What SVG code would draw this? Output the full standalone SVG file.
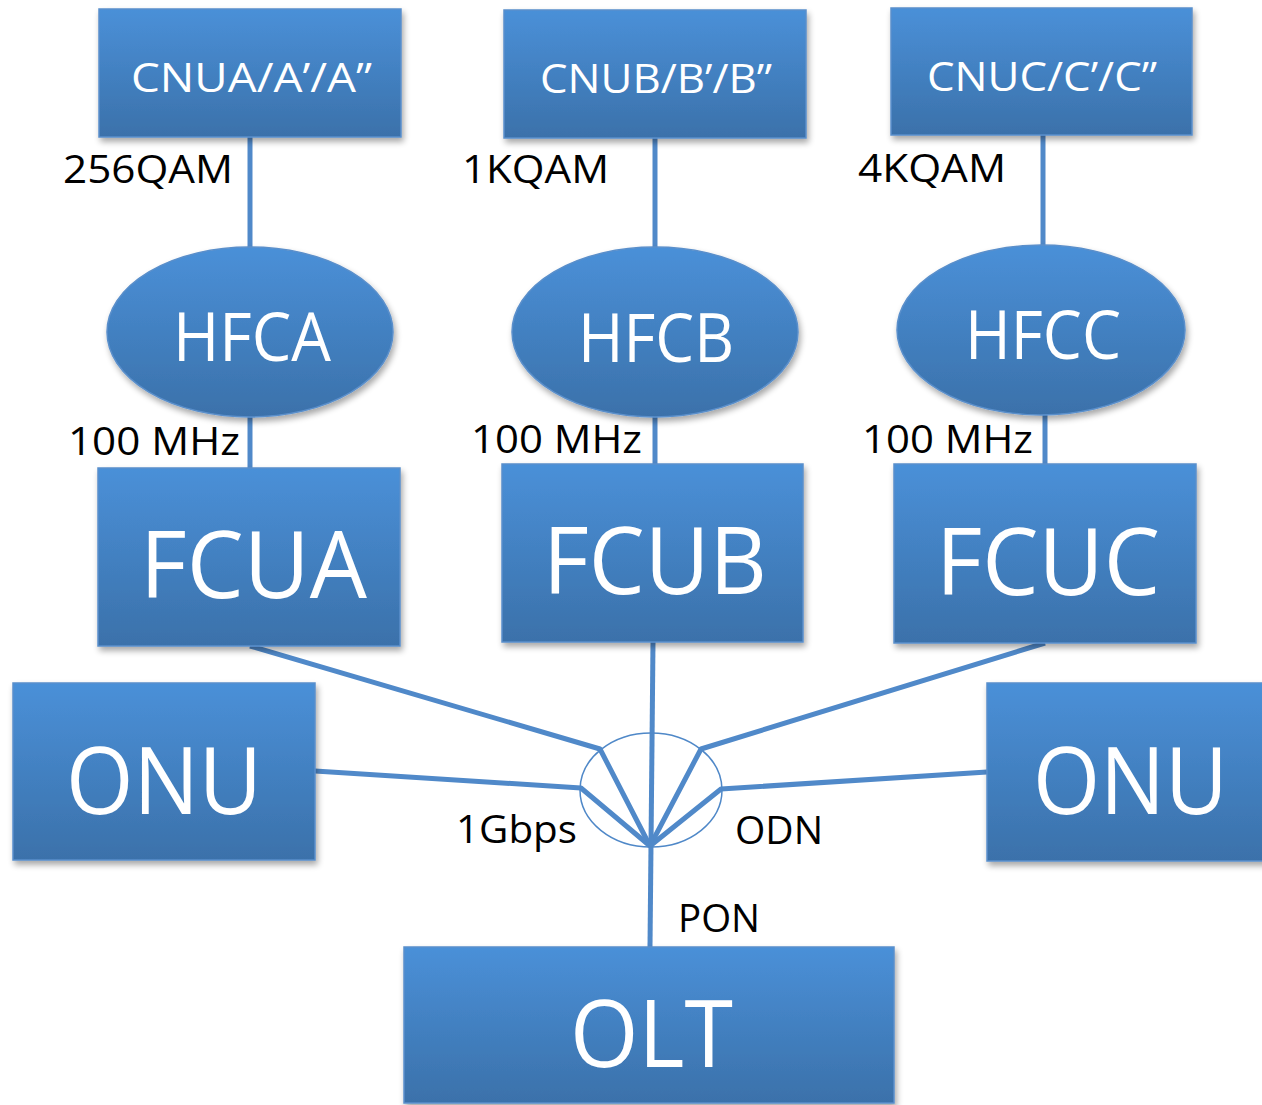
<svg xmlns="http://www.w3.org/2000/svg" width="1262" height="1105" viewBox="0 0 1262 1105">
<defs>
<linearGradient id="g" x1="0" y1="0" x2="0" y2="1">
<stop offset="0" stop-color="#4a90d8"/>
<stop offset="1" stop-color="#3b71aa"/>
</linearGradient>
<filter id="sh" x="-10%" y="-10%" width="125%" height="130%">
<feGaussianBlur in="SourceAlpha" stdDeviation="3"/>
<feOffset dx="2" dy="4"/>
<feComponentTransfer><feFuncA type="linear" slope="0.35"/></feComponentTransfer>
<feMerge><feMergeNode/><feMergeNode in="SourceGraphic"/></feMerge>
</filter>
</defs>
<style>
.n{fill:url(#g);stroke:#5a8fcb;stroke-width:1.5;filter:url(#sh)}
.w{fill:#fff;font-family:"Open Sans","Noto Sans",sans-serif}
.b{fill:#000;font-family:"Open Sans","Noto Sans",sans-serif;font-size:38px}
.c{stroke:#5089c9;stroke-width:5;fill:none;stroke-linecap:butt;stroke-linejoin:round}
</style>
<g id="connectors">
<line class="c" x1="250" y1="137" x2="250" y2="248"/>
<line class="c" x1="250" y1="416" x2="250" y2="468"/>
<line class="c" x1="655" y1="138" x2="655" y2="248"/>
<line class="c" x1="655" y1="417" x2="655" y2="464"/>
<line class="c" x1="1043" y1="135" x2="1043" y2="246"/>
<line class="c" x1="1045" y1="414" x2="1045" y2="464"/>
<polyline class="c" points="250,646 600,749 650,846"/>
<polyline class="c" points="315,771 581,788 650,846"/>
<polyline class="c" points="1045,643 701,749 650,846"/>
<polyline class="c" points="987,772 721,789 650,846"/>
<line class="c" x1="653" y1="642" x2="650" y2="947"/>
<ellipse cx="651" cy="790" rx="71" ry="57" fill="none" stroke="#4f88c8" stroke-width="1.5"/>
</g>
<g id="CNUA"><rect class="n" x="99" y="9" width="302" height="128"/><text class="w" x="131" y="92" font-size="41" textLength="241" lengthAdjust="spacingAndGlyphs">CNUA/A’/A”</text></g>
<g id="CNUB"><rect class="n" x="504" y="10" width="302" height="128"/><text class="w" x="540" y="93" font-size="41" textLength="232" lengthAdjust="spacingAndGlyphs">CNUB/B’/B”</text></g>
<g id="CNUC"><rect class="n" x="891" y="8" width="301" height="127"/><text class="w" x="927" y="91" font-size="41" textLength="230" lengthAdjust="spacingAndGlyphs">CNUC/C’/C”</text></g>
<g id="HFCA"><ellipse class="n" cx="250" cy="332" rx="143" ry="85"/><text class="w" x="173" y="361" font-size="67" textLength="158" lengthAdjust="spacingAndGlyphs">HFCA</text></g>
<g id="HFCB"><ellipse class="n" cx="655" cy="332" rx="143" ry="85"/><text class="w" x="578" y="362" font-size="67" textLength="156" lengthAdjust="spacingAndGlyphs">HFCB</text></g>
<g id="HFCC"><ellipse class="n" cx="1041" cy="330" rx="144" ry="85"/><text class="w" x="965" y="359" font-size="67" textLength="156" lengthAdjust="spacingAndGlyphs">HFCC</text></g>
<g id="FCUA"><rect class="n" x="98" y="468" width="302" height="178"/><text class="w" x="140" y="598" font-size="94" textLength="227" lengthAdjust="spacingAndGlyphs">FCUA</text></g>
<g id="FCUB"><rect class="n" x="502" y="464" width="301" height="178"/><text class="w" x="543" y="594" font-size="94" textLength="224" lengthAdjust="spacingAndGlyphs">FCUB</text></g>
<g id="FCUC"><rect class="n" x="894" y="464" width="302" height="179"/><text class="w" x="936" y="595" font-size="94" textLength="224" lengthAdjust="spacingAndGlyphs">FCUC</text></g>
<g id="ONU1"><rect class="n" x="13" y="683" width="302" height="177"/><text class="w" x="66" y="814" font-size="94" textLength="196" lengthAdjust="spacingAndGlyphs">ONU</text></g>
<g id="ONU2"><rect class="n" x="987" y="683" width="290" height="178"/><text class="w" x="1033" y="814" font-size="94" textLength="195" lengthAdjust="spacingAndGlyphs">ONU</text></g>
<g id="OLT"><rect class="n" x="404" y="947" width="490" height="156"/><text class="w" x="570" y="1067" font-size="94" textLength="163" lengthAdjust="spacingAndGlyphs">OLT</text></g>
<g id="labels">
<text class="b" x="63" y="183" textLength="170" lengthAdjust="spacingAndGlyphs">256QAM</text>
<text class="b" x="462" y="183" textLength="147" lengthAdjust="spacingAndGlyphs">1KQAM</text>
<text class="b" x="858" y="182" textLength="148" lengthAdjust="spacingAndGlyphs">4KQAM</text>
<text class="b" x="68" y="455" textLength="172" lengthAdjust="spacingAndGlyphs">100 MHz</text>
<text class="b" x="471" y="453" textLength="171" lengthAdjust="spacingAndGlyphs">100 MHz</text>
<text class="b" x="862" y="453" textLength="171" lengthAdjust="spacingAndGlyphs">100 MHz</text>
<text class="b" x="456" y="843" textLength="121" lengthAdjust="spacingAndGlyphs">1Gbps</text>
<text class="b" x="735" y="844" textLength="88" lengthAdjust="spacingAndGlyphs">ODN</text>
<text class="b" x="678" y="932" textLength="82" lengthAdjust="spacingAndGlyphs">PON</text>
</g>
</svg>
